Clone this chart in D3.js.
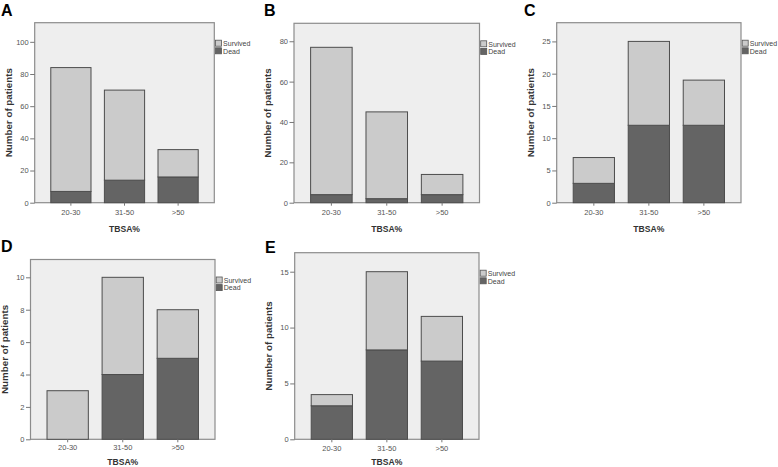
<!DOCTYPE html>
<html><head><meta charset="utf-8">
<script src="https://cdn.jsdelivr.net/npm/d3@7/dist/d3.min.js"></script>
<style>
html,body{margin:0;padding:0;background:#fff;}
svg{display:block;font-family:"Liberation Sans",Arial,sans-serif;}
</style></head>
<body>
<svg id="chart" width="778" height="467"></svg>
<script>
// ---- data ----
const categories = ["20-30", "31-50", ">50"];
const seriesNames = ["Survived", "Dead"];
const panelLetters = ["A", "B", "C", "D", "E"];
// totals per category for each panel
const totalA = [84, 70, 33];
const deadA  = [7, 14, 16];
const totalB = [77, 45, 14];
const deadB  = [4, 2, 4];
const totalC = [7, 25, 19];
const deadC  = [3, 12, 12];
const totalD = [3, 10, 8];
const deadD  = [0, 4, 5];
const totalE = [4, 15, 11];
const deadE  = [3, 8, 7];
// y tick labels per panel
const ticksA = [0, 20, 40, 60, 80, 100];
const ticksB = [0, 20, 40, 60, 80];
const ticksC = [0, 5, 10, 15, 20, 25];
const ticksD = [0, 2, 4, 6, 8, 10];
const ticksE = [0, 5, 10, 15];
const axisMax = [111.9, 88.9, 27.9, 11.1, 16.7];
const xTitle = "TBSA%";
const yTitle = "Number of patients";

// ---- layout ----
const layout = [
  {l: 34.7, t: 22.7, r: 214.3, b: 202.7, lx: 1,   ly: 16,  xt: 29.3, tp: 3.5},
  {l: 294,  t: 23.3, r: 479.5, b: 202.7, lx: 264, ly: 16,  xt: 29.3, tp: 3.5},
  {l: 556.7,t: 22.7, r: 741,   b: 202.7, lx: 524, ly: 16,  xt: 29.3, tp: 3.5},
  {l: 30.5, t: 259.5,r: 215,   b: 439.3, lx: 1,   ly: 252, xt: 25.2, tp: 2.5},
  {l: 294.7,t: 252.7,r: 479,   b: 439.3, lx: 265, ly: 253, xt: 25.2, tp: 3}
];
const panels = [
  {total: totalA, dead: deadA, ticks: ticksA},
  {total: totalB, dead: deadB, ticks: ticksB},
  {total: totalC, dead: deadC, ticks: ticksC},
  {total: totalD, dead: deadD, ticks: ticksD},
  {total: totalE, dead: deadE, ticks: ticksE}
];
const colors = {Survived: "#cbcbcb", Dead: "#646464"};
const svg = d3.select("#chart");

panels.forEach((p, i) => {
  const L = layout[i];
  const g = svg.append("g");
  const x = d3.scaleBand().domain(categories).range([L.l, L.r])
    .paddingInner(0.25).paddingOuter(0.3);
  const y = d3.scaleLinear().domain([0, axisMax[i]]).range([L.b, L.t]);

  // frame background
  g.append("rect").attr("x", L.l).attr("y", L.t)
    .attr("width", L.r - L.l).attr("height", L.b - L.t)
    .attr("fill", "#eeeeee").attr("stroke", "#8c8c8c").attr("stroke-width", 1.2);

  // stacked data
  const rows = categories.map((c, j) => ({cat: c, Dead: p.dead[j], Survived: p.total[j] - p.dead[j]}));
  const stack = d3.stack().keys(["Dead", "Survived"])(rows);
  stack.forEach(layer => {
    g.selectAll(null).data(layer.filter(d => d[1] - d[0] > 0)).enter().append("rect")
      .attr("x", d => x(d.data.cat))
      .attr("width", x.bandwidth())
      .attr("y", d => y(d[1]))
      .attr("height", d => y(d[0]) - y(d[1]))
      .attr("fill", colors[layer.key])
      .attr("stroke", "#4d4d4d").attr("stroke-width", 1);
  });

  // y axis
  const ya = g.append("g").attr("transform", `translate(${L.l},0)`)
    .call(d3.axisLeft(y).tickValues(p.ticks).tickSize(4.5).tickPadding(1.5).tickFormat(d3.format("d")));
  ya.select(".domain").remove();
  ya.selectAll("line").attr("stroke", "#777");
  ya.selectAll("text").attr("fill", "#555").style("font-size", "7.5px").style("font-family", "'Liberation Sans',Arial,sans-serif");

  // x axis
  const xa = g.append("g").attr("transform", `translate(0,${L.b})`)
    .call(d3.axisBottom(x).tickSize(3).tickPadding(L.tp));
  xa.select(".domain").remove();
  xa.selectAll("line").attr("stroke", "#777");
  xa.selectAll("text").attr("fill", "#555").style("font-size", "7.5px").style("font-family", "'Liberation Sans',Arial,sans-serif");

  // axis titles
  g.append("text").attr("x", (L.l + L.r) / 2).attr("y", L.b + L.xt)
    .attr("text-anchor", "middle").attr("font-weight", "bold").attr("font-size", 8.6)
    .attr("fill", "#333").text(xTitle);
  g.append("text")
    .attr("transform", `translate(${L.l - 23},${(L.t + L.b) / 2}) rotate(-90)`)
    .attr("text-anchor", "middle").attr("font-weight", "bold").attr("font-size", 9.8)
    .attr("fill", "#333").text(yTitle);

  // legend
  const lg = g.append("g").attr("transform", `translate(${L.r + 1.2},${L.t + 17.5})`);
  seriesNames.forEach((s, k) => {
    lg.append("rect").attr("x", 0).attr("y", k * 7.6).attr("width", 6).attr("height", 6)
      .attr("fill", colors[s]).attr("stroke", "#555").attr("stroke-width", 0.8);
    lg.append("text").attr("x", 7.6).attr("y", k * 7.6 + 5.8)
      .attr("font-size", 7).attr("fill", "#444").text(s);
  });

  // panel letter
  svg.append("text").attr("x", L.lx).attr("y", L.ly)
    .attr("font-weight", "bold").attr("font-size", 16).attr("fill", "#000")
    .text(panelLetters[i]);
});
</script>
</body></html>
